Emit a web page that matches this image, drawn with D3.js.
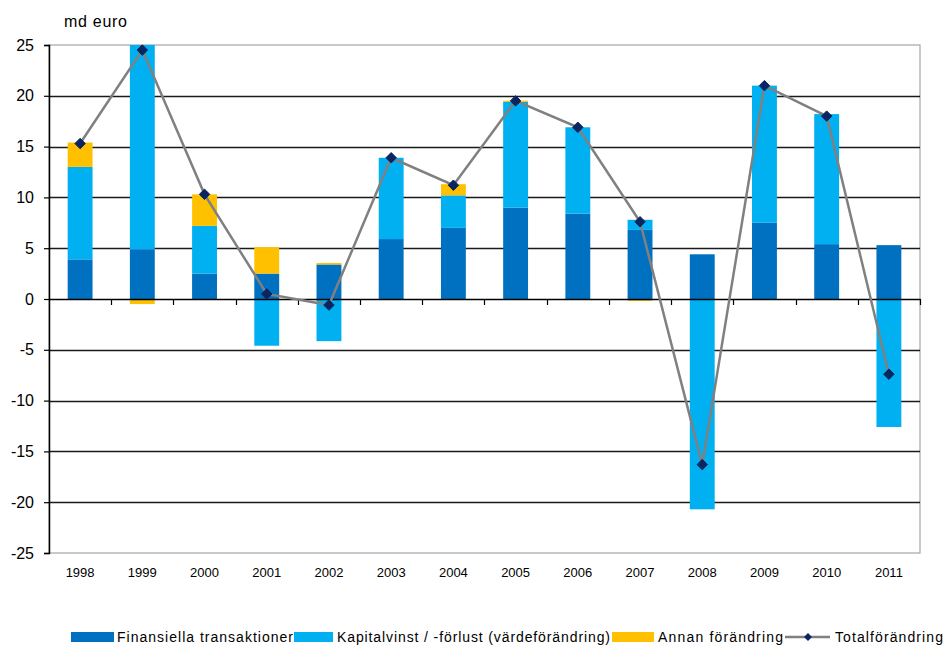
<!DOCTYPE html>
<html>
<head>
<meta charset="utf-8">
<script src="https://cdnjs.cloudflare.com/ajax/libs/d3/7.8.5/d3.min.js"></script>
<style>
  body { margin: 0; background: #fff; }
  svg { display: block; font-family: "Liberation Sans", Arial, sans-serif; }
</style>
</head>
<body>
<script>
// data (md euro)
var years = ["1998", "1999", "2000", "2001", "2002", "2003", "2004", "2005", "2006", "2007", "2008", "2009", "2010", "2011"];
var finansiella = [3.9, 4.9, 2.5, 2.5, 3.4, 5.9, 7.0, 9.0, 8.4, 6.8, 4.4, 7.5, 5.4, 5.3];
var kapitalvinst = [9.1, 20.1, 4.7, -4.6, -4.15, 8.0, 3.2, 10.4, 8.5, 1.0, -20.7, 13.5, 12.8, -12.6];
var annan = [2.4, -0.5, 3.1, 2.6, 0.15, 0, 1.1, 0.12, 0, -0.2, 0, 0, 0, 0];
var total = [15.3, 24.5, 10.3, 0.5, -0.6, 13.9, 11.2, 19.5, 16.9, 7.6, -16.3, 21.0, 18.0, -7.4];
var yTicks = [-25, -20, -15, -10, -5, 0, 5, 10, 15, 20, 25];

var seriesKeys = ["fin", "kap", "annan"];
var seriesNames = ["Finansiella transaktioner", "Kapitalvinst / -förlust (värdeförändring)", "Annan förändring"];
var colors = {fin: "#0070C0", kap: "#00B0F0", annan: "#FFC000"};

var width = 947, height = 645;
var plot = {left: 49, right: 920, top: 45, bottom: 553};

var svg = d3.select("body").append("svg")
    .attr("width", width)
    .attr("height", height);

var x = d3.scaleBand()
    .domain(years)
    .range([plot.left, plot.right])
    .paddingInner(0.6)
    .paddingOuter(0.3);

var y = d3.scaleLinear()
    .domain([-25, 25])
    .range([plot.bottom, plot.top]);

// table for the stack
var rows = years.map(function(yr, i) {
  return {year: yr, fin: finansiella[i], kap: kapitalvinst[i], annan: annan[i]};
});

var stacked = d3.stack()
    .keys(seriesKeys)
    .offset(d3.stackOffsetDiverging)(rows);

// plot frame: grey border at top/right/bottom
svg.append("rect")
    .attr("x", plot.left)
    .attr("y", plot.top)
    .attr("width", plot.right - plot.left)
    .attr("height", plot.bottom - plot.top)
    .attr("fill", "none")
    .attr("stroke", "#a6a6a6")
    .attr("stroke-width", 1.2);

// gridlines
svg.append("g")
    .selectAll("line")
    .data(yTicks.filter(function(d) { return d !== 25 && d !== -25 && d !== 0; }))
    .enter().append("line")
    .attr("x1", plot.left)
    .attr("x2", plot.right)
    .attr("y1", function(d) { return Math.round(y(d)) + 0.5; })
    .attr("y2", function(d) { return Math.round(y(d)) + 0.5; })
    .attr("stroke", "#1a1a1a")
    .attr("stroke-width", 1.5);

// bars
svg.append("g")
    .selectAll("g")
    .data(stacked)
    .enter().append("g")
    .attr("fill", function(d) { return colors[d.key]; })
    .selectAll("rect")
    .data(function(d) { return d; })
    .enter().append("rect")
    .attr("x", function(d) { return x(d.data.year); })
    .attr("width", x.bandwidth())
    .attr("y", function(d) { return y(Math.max(d[0], d[1])); })
    .attr("height", function(d) { return Math.abs(y(d[0]) - y(d[1])); });

// y axis, plain hyphen for negatives like the original
var yAxis = d3.axisLeft(y)
    .tickValues(yTicks)
    .tickSize(5)
    .tickPadding(10)
    .tickFormat(function(d) { return String(d); });

svg.append("g")
    .attr("class", "y axis")
    .attr("transform", "translate(" + plot.left + ",0)")
    .call(yAxis)
    .call(function(g) {
      g.select(".domain").attr("stroke", "#000").attr("stroke-width", 1.5);
      g.selectAll(".tick line").attr("stroke", "#000").attr("stroke-width", 1.2);
      g.selectAll("text")
          .attr("fill", "#000")
          .style("font-size", "16px")
          .style("font-family", "'Liberation Sans', Arial, sans-serif");
    });

// zero line with category tick marks
var xAxis = d3.axisBottom(x)
    .tickSize(0)
    .tickFormat("");

svg.append("g")
    .attr("transform", "translate(0," + y(0) + ")")
    .call(xAxis)
    .call(function(g) {
      g.select(".domain").attr("stroke", "#000").attr("stroke-width", 1.5);
    });

var boundaries = d3.range(1, years.length + 1).map(function(i) {
  return x(years[i - 1]) + x.bandwidth() / 2 + x.step() / 2;
});
svg.append("g")
    .selectAll("line")
    .data(boundaries)
    .enter().append("line")
    .attr("x1", function(d) { return Math.round(d) + 0.5; })
    .attr("x2", function(d) { return Math.round(d) + 0.5; })
    .attr("y1", y(0))
    .attr("y2", y(0) + 6)
    .attr("stroke", "#000")
    .attr("stroke-width", 1.2);

// year labels below the plot
svg.append("g")
    .selectAll("text")
    .data(years)
    .enter().append("text")
    .attr("x", function(d) { return x(d) + x.bandwidth() / 2; })
    .attr("y", plot.bottom + 24)
    .attr("text-anchor", "middle")
    .style("font-size", "13px")
    .attr("fill", "#000")
    .text(function(d) { return d; });

// total line
var line = d3.line()
    .x(function(d, i) { return x(years[i]) + x.bandwidth() / 2; })
    .y(function(d) { return y(d); });

svg.append("path")
    .datum(total)
    .attr("d", line)
    .attr("fill", "none")
    .attr("stroke", "#808080")
    .attr("stroke-width", 2.5);

var diamond = d3.symbol().type(d3.symbolDiamond2).size(70);

svg.append("g")
    .selectAll("path")
    .data(total)
    .enter().append("path")
    .attr("d", diamond)
    .attr("transform", function(d, i) {
      return "translate(" + (x(years[i]) + x.bandwidth() / 2) + "," + y(d) + ")";
    })
    .attr("fill", "#0b2560")
    .attr("stroke", "#0b2560")
    .attr("stroke-width", 1);

// unit label
svg.append("text")
    .attr("x", 64)
    .attr("y", 27)
    .attr("textLength", 63)
    .attr("lengthAdjust", "spacing")
    .style("font-size", "16px")
    .attr("fill", "#000")
    .text("md euro");

// legend
var legend = svg.append("g").attr("class", "legend");
var legendY = 637;
var legendItems = [
  {name: seriesNames[0], color: colors.fin, sx: 71, sw: 43, tx: 117, tw: 176},
  {name: seriesNames[1], color: colors.kap, sx: 294, sw: 39, tx: 337, tw: 273},
  {name: seriesNames[2], color: colors.annan, sx: 612, sw: 42, tx: 658, tw: 125}
];

legendItems.forEach(function(it) {
  legend.append("rect")
      .attr("x", it.sx)
      .attr("y", legendY - 5)
      .attr("width", it.sw)
      .attr("height", 10)
      .attr("fill", it.color);
  legend.append("text")
      .attr("x", it.tx)
      .attr("y", legendY + 5)
      .attr("textLength", it.tw)
      .attr("lengthAdjust", "spacing")
      .style("font-size", "14px")
      .attr("fill", "#000")
      .text(it.name);
});

legend.append("line")
    .attr("x1", 785)
    .attr("x2", 830)
    .attr("y1", legendY)
    .attr("y2", legendY)
    .attr("stroke", "#808080")
    .attr("stroke-width", 2.5);
legend.append("path")
    .attr("d", d3.symbol().type(d3.symbolDiamond2).size(40))
    .attr("transform", "translate(808," + legendY + ")")
    .attr("fill", "#0b2560");
legend.append("text")
    .attr("x", 835)
    .attr("y", legendY + 5)
    .attr("textLength", 108)
    .attr("lengthAdjust", "spacing")
    .style("font-size", "14px")
    .attr("fill", "#000")
    .text("Totalförändring");
</script>
</body>
</html>
